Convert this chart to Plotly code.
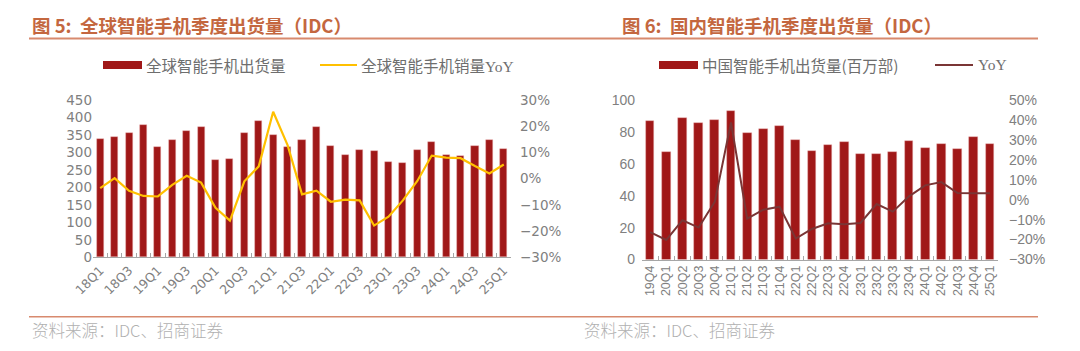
import plotly.graph_objects as go

# ---------------- data ----------------
global_quarters = [f"{y}Q{q}" for y in range(18, 25) for q in range(1, 5)] + ["25Q1"]
global_shipments = [338, 345, 357, 378, 315, 337, 361, 372, 279, 282, 356, 390, 349, 316, 335,
                    372, 318, 292, 307, 303, 273, 270, 306, 329, 293, 289, 319, 336, 309]
global_yoy = [-3.6, 0.2, -4.6, -6.6, -6.8, -2.4, 1.1, -1.5, -11.1, -16.0, -1.0, 4.7, 25.5, 12.8,
              -6.0, -4.6, -8.8, -8.0, -8.3, -17.9, -14.5, -8.3, -0.9, 8.8, 8.0, 7.8, 4.8, 2.0, 5.4]
global_ticktext = [q if i % 2 == 0 else "" for i, q in enumerate(global_quarters)]

china_quarters = ["19Q4"] + [f"{y}Q{q}" for y in range(20, 25) for q in range(1, 5)] + ["25Q1"]
china_shipments = [86.8, 67.2, 88.5, 85.4, 87.3, 93.1, 79.5, 81.6, 83.9, 74.7, 67.8,
                   71.8, 73.4, 65.9, 66.1, 67.5, 74.1, 69.9, 72.2, 69.2, 77.0, 72.2]
china_yoy = [-16.3, -20.2, -10.3, -14.0, -1.0, 38.7, -9.5, -5.0, -3.5, -19.5, -14.7,
             -11.8, -12.3, -11.7, -2.2, -6.0, 1.7, 7.2, 8.8, 3.3, 3.2, 3.2]

# ---------------- styles ----------------
W, H = 1080, 351
BAR = "#A01818"
YELLOW = "#FFC000"
BROWN = "#7A3535"
TITLE_C = "#C4673F"
RULE_C = "#D88A6E"
TICK_C = "#808080"
CJK = "Noto Sans CJK SC"

def px_x(x):
    return x / W

def px_y(y):
    return 1 - y / H

fig = go.Figure()

fig.add_trace(go.Bar(x=global_quarters, y=global_shipments, marker_color=BAR,
                     marker_line=dict(color="rgba(230,170,170,0.7)", width=0.6),
                     width=0.49, xaxis="x", yaxis="y", name="全球智能手机出货量"))
fig.add_trace(go.Scatter(x=global_quarters, y=global_yoy, mode="lines",
                         line=dict(color=YELLOW, width=2.2), xaxis="x", yaxis="y2",
                         name="全球智能手机销量YoY"))
fig.add_trace(go.Bar(x=china_quarters, y=china_shipments, marker_color=BAR,
                     marker_line=dict(color="rgba(230,170,170,0.7)", width=0.6),
                     width=0.54, xaxis="x2", yaxis="y3", name="中国智能手机出货量(百万部)"))
fig.add_trace(go.Scatter(x=china_quarters, y=china_yoy, mode="lines",
                         line=dict(color=BROWN, width=2), xaxis="x2", yaxis="y4", name="YoY"))

left_dom = [px_x(93), px_x(511)]
right_dom = [px_x(642), px_x(998)]
ydom_l = [px_y(257.3), px_y(100)]
ydom_r = [px_y(259.5), px_y(100)]

fontL = dict(family="DejaVu Sans", size=13.5, color=TICK_C)
fontR = dict(family="Liberation Sans", size=14, color=TICK_C)

fig.update_layout(
    width=W, height=H, margin=dict(l=0, r=0, t=0, b=0, autoexpand=False),
    paper_bgcolor="white", plot_bgcolor="white", showlegend=False, bargap=0,
    xaxis=dict(domain=left_dom, anchor="y", type="category", tickmode="array",
               tickvals=global_quarters, ticktext=global_ticktext, tickangle=-45,
               tickfont=dict(family="DejaVu Sans", size=12.5, color=TICK_C), automargin=False,
               showline=True, linecolor="#A6A6A6", linewidth=1, ticks="inside",
               tickson="boundaries", ticklen=4, tickcolor="#A6A6A6", showgrid=False),
    yaxis=dict(domain=ydom_l, anchor="x", range=[0, 450], dtick=50, tickfont=fontL,
               automargin=False,
               showgrid=False, zeroline=False, showline=False, ticks=""),
    yaxis2=dict(domain=ydom_l, anchor="x", overlaying="y", side="right", range=[-30, 30],
                dtick=10, ticksuffix="%", tickfont=fontL, showgrid=False, zeroline=False,
                automargin=False,
                showline=False, ticks="", ticklabelstandoff=8),
    xaxis2=dict(domain=right_dom, anchor="y3", type="category", tickangle=-90,
                tickmode="array", tickvals=china_quarters, ticktext=china_quarters,
                tickfont=dict(family="Liberation Sans", size=12.5, color=TICK_C),
                automargin=False,
                showline=True, linecolor="#A6A6A6", linewidth=1, ticks="inside",
                tickson="boundaries", ticklen=4, tickcolor="#A6A6A6", showgrid=False),
    yaxis3=dict(domain=ydom_r, anchor="x2", range=[0, 100], dtick=20, tickfont=fontR,
                automargin=False,
                showgrid=False, zeroline=False, showline=False, ticks="", ticklabelstandoff=6),
    yaxis4=dict(domain=ydom_r, anchor="x2", overlaying="y3", side="right", range=[-30, 50],
                dtick=10, ticksuffix="%", tickfont=fontR, showgrid=False, zeroline=False,
                automargin=False,
                showline=False, ticks="", ticklabelstandoff=10),
)

shapes = []
annotations = []

# titles and rules
annotations.append(dict(x=px_x(30), y=px_y(25), xref="paper", yref="paper", xanchor="left",
                        yanchor="middle", showarrow=False,
                        text="<b>图 5:  全球智能手机季度出货量（IDC）</b>",
                        font=dict(family=CJK, size=18.5, color=TITLE_C)))
annotations.append(dict(x=px_x(620), y=px_y(25), xref="paper", yref="paper", xanchor="left",
                        yanchor="middle", showarrow=False,
                        text="<b>图 6:  国内智能手机季度出货量（IDC）</b>",
                        font=dict(family=CJK, size=18.5, color=TITLE_C)))
shapes.append(dict(type="line", xref="paper", yref="paper", x0=px_x(29), x1=px_x(1038),
                   y0=px_y(38.5), y1=px_y(38.5), line=dict(color=RULE_C, width=2)))
shapes.append(dict(type="line", xref="paper", yref="paper", x0=px_x(29), x1=px_x(1038),
                   y0=px_y(316.8), y1=px_y(316.8), line=dict(color=RULE_C, width=1.5)))

# sources
for x0 in (30, 582):
    annotations.append(dict(x=px_x(x0), y=px_y(330), xref="paper", yref="paper",
                            xanchor="left", yanchor="middle", showarrow=False,
                            text="资料来源：IDC、招商证券",
                            font=dict(family=CJK, size=16.5, color="#B0B0B0", weight=300)))

# legends
LEG_Y = 65
shapes.append(dict(type="rect", xref="paper", yref="paper", x0=px_x(103), x1=px_x(142),
                   y0=px_y(LEG_Y + 4), y1=px_y(LEG_Y - 4), fillcolor=BAR, line=dict(width=0)))
annotations.append(dict(x=px_x(144), y=px_y(LEG_Y), xref="paper", yref="paper",
                        xanchor="left", yanchor="middle", showarrow=False,
                        text="全球智能手机出货量", font=dict(family=CJK, size=15.5, color="#6E6E6E")))
shapes.append(dict(type="line", xref="paper", yref="paper", x0=px_x(320), x1=px_x(357),
                   y0=px_y(LEG_Y), y1=px_y(LEG_Y), line=dict(color=YELLOW, width=2)))
annotations.append(dict(x=px_x(359), y=px_y(LEG_Y), xref="paper", yref="paper",
                        xanchor="left", yanchor="middle", showarrow=False,
                        text="全球智能手机销量<span style='font-family:Liberation Serif'>YoY</span>",
                        font=dict(family=CJK, size=15.5, color="#6E6E6E")))

shapes.append(dict(type="rect", xref="paper", yref="paper", x0=px_x(659), x1=px_x(698),
                   y0=px_y(LEG_Y + 4), y1=px_y(LEG_Y - 4), fillcolor=BAR, line=dict(width=0)))
annotations.append(dict(x=px_x(700), y=px_y(LEG_Y), xref="paper", yref="paper",
                        xanchor="left", yanchor="middle", showarrow=False,
                        text="中国智能手机出货量(百万部)", font=dict(family=CJK, size=15.5, color="#6E6E6E")))
shapes.append(dict(type="line", xref="paper", yref="paper", x0=px_x(935), x1=px_x(973),
                   y0=px_y(LEG_Y), y1=px_y(LEG_Y), line=dict(color=BROWN, width=2)))
annotations.append(dict(x=px_x(976), y=px_y(LEG_Y), xref="paper", yref="paper",
                        xanchor="left", yanchor="middle", showarrow=False,
                        text="YoY", font=dict(family="Liberation Serif", size=15.5, color="#6E6E6E")))

fig.update_layout(shapes=shapes, annotations=annotations)
fig.write_html("out.html")
